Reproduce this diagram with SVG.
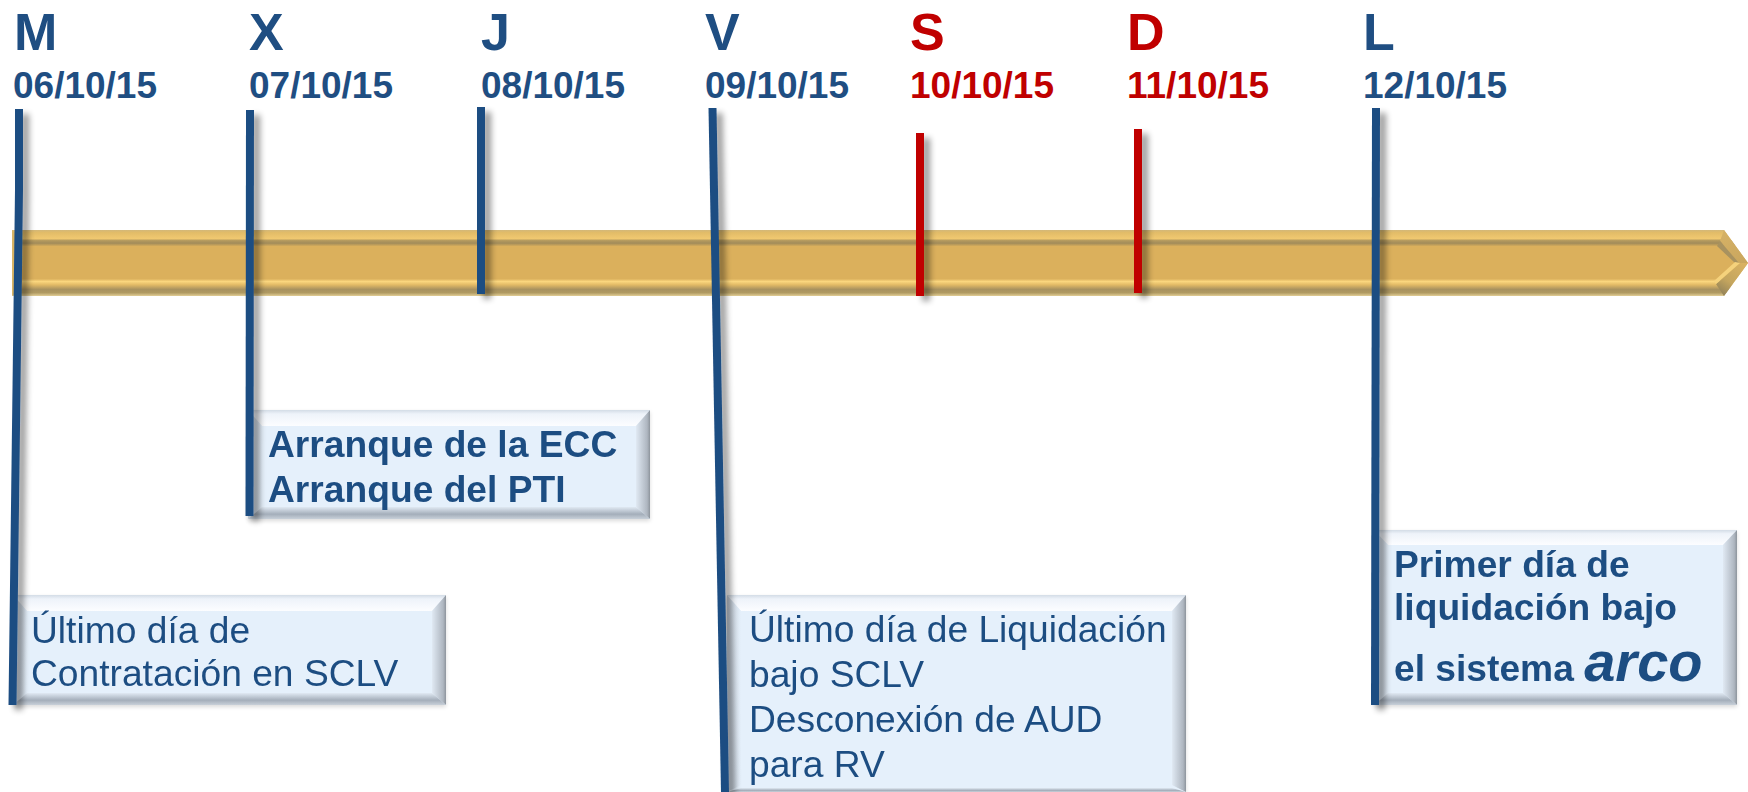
<svg xmlns="http://www.w3.org/2000/svg" width="1748" height="792" viewBox="0 0 1748 792">
<style>
text{font-family:"Liberation Sans",Arial,sans-serif;fill:#1F4E82}
.day{font-size:52px;font-weight:700}
.date{font-size:37px;font-weight:700}
.red{fill:#C00000}
.b{font-size:37.200px;font-weight:700}
.r{font-size:37.200px}
.face{fill:#E5F0FB}
.top{fill:url(#bTop)}
.bot{fill:url(#bBot)}
.rgt{fill:url(#bRgt)}
.lft{fill:url(#bLft)}
.tick{fill:none;stroke:#1F4E82;stroke-width:8;filter:url(#sh)}
.tickr{fill:none;stroke:#C00000;stroke-width:8;filter:url(#sh)}
</style>
<defs>
<filter id="sh" filterUnits="userSpaceOnUse" x="0" y="0" width="1748" height="792"><feGaussianBlur in="SourceAlpha" stdDeviation="3"/><feOffset dx="6" dy="5"/><feComponentTransfer><feFuncA type="linear" slope=".4"/></feComponentTransfer><feMerge><feMergeNode/><feMergeNode in="SourceGraphic"/></feMerge></filter>
<filter id="bs" x="-5%" y="-5%" width="110%" height="115%"><feGaussianBlur in="SourceAlpha" stdDeviation="2"/><feOffset dx="0" dy="2"/><feComponentTransfer><feFuncA type="linear" slope=".15"/></feComponentTransfer><feMerge><feMergeNode/><feMergeNode in="SourceGraphic"/></feMerge></filter>
<linearGradient id="bTop" x1="0" y1="0" x2="0" y2="1"><stop offset="0" stop-color="#D3DCE6"/><stop offset=".25" stop-color="#EEF3FA"/><stop offset="1" stop-color="#FCFDFF"/></linearGradient>
<linearGradient id="bBot" x1="0" y1="0" x2="0" y2="1"><stop offset="0" stop-color="#E0E9F3"/><stop offset=".6" stop-color="#A4AEBA"/><stop offset="1" stop-color="#C8D0D9"/></linearGradient>
<linearGradient id="bRgt" x1="0" y1="0" x2="1" y2="0"><stop offset="0" stop-color="#E0E9F3"/><stop offset=".8" stop-color="#AEB6C0"/><stop offset="1" stop-color="#8D949C"/></linearGradient>
<linearGradient id="bLft" x1="0" y1="0" x2="1" y2="0"><stop offset="0" stop-color="#C4CDD8"/><stop offset="1" stop-color="#E5F0FB"/></linearGradient>
<linearGradient id="barV" gradientUnits="userSpaceOnUse" x1="0" y1="230" x2="0" y2="296">
<stop offset="0" stop-color="#D3B879"/><stop offset=".04" stop-color="#E2BC68"/><stop offset=".13" stop-color="#F0C870"/><stop offset=".16" stop-color="#B59A5E"/><stop offset=".2" stop-color="#A28C5A"/><stop offset=".25" stop-color="#DBB05C"/>
<stop offset=".74" stop-color="#DBB05C"/><stop offset=".78" stop-color="#FAD67E"/><stop offset=".83" stop-color="#E2BA66"/><stop offset=".9" stop-color="#A8925F"/><stop offset=".95" stop-color="#B09A62"/><stop offset="1" stop-color="#E2CE96"/></linearGradient>
<linearGradient id="arrowLow" gradientUnits="userSpaceOnUse" x1="1744" y1="263" x2="1722" y2="296"><stop offset="0" stop-color="#D9B262"/><stop offset=".6" stop-color="#C4A55E"/><stop offset="1" stop-color="#8F8058"/></linearGradient>
<linearGradient id="arrowUp" gradientUnits="userSpaceOnUse" x1="1722" y1="230" x2="1745" y2="263"><stop offset="0" stop-color="#D6B266"/><stop offset="1" stop-color="#C9A65E"/></linearGradient>
</defs>
<g id="bar">
<polygon points="12,230 1724,230 1748,263 1724,296 12,296" fill="url(#barV)"/>
<polygon points="1718,246 1739,263 1718,281" fill="#DBB05C"/>
<polygon points="1724,230 1748,263 1739,263 1720,241" fill="url(#arrowUp)"/>
<polygon points="1720,241 1739,263 1735,263 1717,246" fill="#A8925F"/>
<polygon points="1748,263 1724,296 1716,284 1740,263" fill="url(#arrowLow)"/>
<polygon points="1716,284 1740,263 1735,262 1714,281" fill="#F5D27C"/>
<polygon points="12,230 22,240 22,283 12,296" fill="#D8B465"/>
</g>
<g id="day-m"><text class="day" x="14" y="50">M</text><text class="date" x="13" y="98">06/10/15</text></g>
<g id="day-x"><text class="day" x="249" y="50">X</text><text class="date" x="249" y="98">07/10/15</text></g>
<g id="day-j"><text class="day" x="481" y="50">J</text><text class="date" x="481" y="98">08/10/15</text></g>
<g id="day-v"><text class="day" x="705" y="50">V</text><text class="date" x="705" y="98">09/10/15</text></g>
<g id="day-s"><text class="day red" x="910" y="50">S</text><text class="date red" x="910" y="98">10/10/15</text></g>
<g id="day-d"><text class="day red" x="1127" y="50">D</text><text class="date red" x="1127" y="98">11/10/15</text></g>
<g id="day-l"><text class="day" x="1363" y="50">L</text><text class="date" x="1363" y="98">12/10/15</text></g>
<g id="box-x" filter="url(#bs)">
<rect class="face" x="248" y="410" width="402" height="109"/>
<polygon class="top" points="248,410 650,410 636,426 262,426"/>
<polygon class="lft" points="248,410 262,426 262,507 248,519"/>
<polygon class="rgt" points="650,410 650,519 636,507 636,426"/>
<polygon class="bot" points="248,519 262,507 636,507 650,519"/>
<text class="b" x="268" y="457">Arranque de la ECC</text>
<text class="b" x="268" y="502">Arranque del PTI</text>
</g>
<g id="box-m" filter="url(#bs)">
<rect class="face" x="13" y="595" width="433" height="110"/>
<polygon class="top" points="13,595 446,595 432,611 27,611"/>
<polygon class="lft" points="13,595 27,611 27,693 13,705"/>
<polygon class="rgt" points="446,595 446,705 432,693 432,611"/>
<polygon class="bot" points="13,705 27,693 432,693 446,705"/>
<text class="r" x="31" y="643">Último día de</text>
<text class="r" x="31" y="686">Contratación en SCLV</text>
</g>
<g id="box-v" filter="url(#bs)">
<rect class="face" x="727" y="595" width="459" height="197"/>
<polygon class="top" points="727,595 1186,595 1172,611 741,611"/>
<polygon class="lft" points="727,595 741,611 741,785 727,792"/>
<polygon class="rgt" points="1186,595 1186,792 1172,785 1172,611"/>
<polygon class="bot" points="727,792 741,788 1172,788 1186,792"/>
<text class="r" x="749" y="642">Último día de Liquidación</text>
<text class="r" x="749" y="687">bajo SCLV</text>
<text class="r" x="749" y="732">Desconexión de AUD</text>
<text class="r" x="749" y="777">para RV</text>
</g>
<g id="box-l" filter="url(#bs)">
<rect class="face" x="1374" y="530" width="363" height="175"/>
<polygon class="top" points="1374,530 1737,530 1723,545 1388,545"/>
<polygon class="lft" points="1374,530 1388,545 1388,693 1374,705"/>
<polygon class="rgt" points="1737,530 1737,705 1723,693 1723,545"/>
<polygon class="bot" points="1374,705 1388,693 1723,693 1737,705"/>
<text class="b" x="1394" y="577">Primer día de</text>
<text class="b" x="1394" y="620">liquidación bajo</text>
<text class="b" x="1394" y="681">el sistema <tspan font-size="56" font-style="italic">arco</tspan></text>
</g>
<g id="connectors">
<path class="tick" d="M19 109L19 190L12.500 705"/>
<path class="tick" d="M250 110L249.500 516"/>
<path class="tick" d="M481 107V294"/>
<path class="tick" d="M712.500 108L725 792"/>
<path class="tickr" d="M920 133V296"/>
<path class="tickr" d="M1138 129V293"/>
<path class="tick" d="M1376 108L1375 705"/>
</g>
</svg>
